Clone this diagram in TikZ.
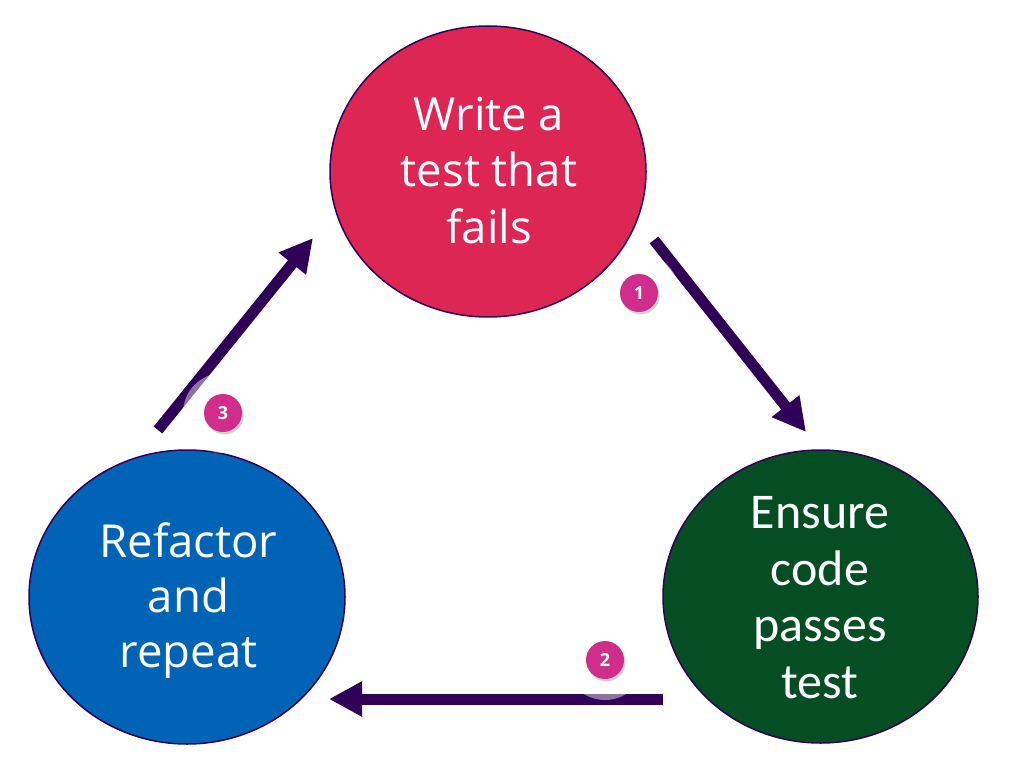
\documentclass[tikz,border=0pt]{standalone}
\usepackage{fontspec}
\newfontfamily\ember{Open Sans}
\newfontfamily\calib{Carlito}
\usetikzlibrary{arrows.meta,shapes.geometric,shadows}
\definecolor{tddred}{RGB}{222,38,84}
\definecolor{tddblue}{RGB}{0,99,182}
\definecolor{tddgreen}{RGB}{5,78,36}
\definecolor{tddpurple}{RGB}{48,0,88}
\definecolor{tddpink}{RGB}{208,45,140}
\tikzset{
  bubble/.style={ellipse, draw=tddpurple, line width=1.5pt, inner sep=0pt},
  label1/.style={text=white, align=center, anchor=base, inner sep=0pt},
  flow/.style={draw=tddpurple, line width=11pt, -{Triangle[length=33pt,width=33pt]}},
  halo/.style={circle, fill=white, fill opacity=0.45, minimum size=80pt, inner sep=0pt},
  badge/.style={circle, fill=tddpink, minimum size=38pt, inner sep=0pt, text=white,
    font=\ember\bfseries\fontsize{18}{18}\selectfont,
    drop shadow={opacity=0.35, shadow xshift=1.5pt, shadow yshift=-2.5pt}}
}
\begin{document}
\begin{tikzpicture}[x=1pt,y=-1pt]
\useasboundingbox[fill=white] (0,0) rectangle (1011,778);
% circles
\node[bubble, fill=tddred, minimum width=316pt, minimum height=291pt] (write) at (488,171.5) {};
\node[bubble, fill=tddgreen, minimum width=315pt, minimum height=293pt] (ensure) at (820.5,596.5) {};
\node[bubble, fill=tddblue, minimum width=316pt, minimum height=294pt] (refactor) at (187,597) {};
% texts (anchor base = baseline of the last line)
\node[label1, font=\ember\fontsize{45.5}{56.5}\selectfont] (twrite) at (489,243) {Write a\\test that\\fails};
\node[label1, font=\calib\fontsize{50}{56.5}\selectfont] (tensure) at (820,698) {Ensure\\code\\passes\\test};
\node[label1, font=\ember\fontsize{45.5}{55}\selectfont] (trefactor) at (188.5,667) {Refactor\\and\\repeat};
% arrow end points
\coordinate (a1s) at (654,240);
\coordinate (a1e) at (806,432);
\coordinate (a2s) at (663,699);
\coordinate (a2e) at (329,699);
\coordinate (a3s) at (158,430);
\coordinate (a3e) at (313,238);
\draw[flow] (a1s) -- (a1e);
\draw[flow] (a2s) -- (a2e);
\draw[flow] (a3s) -- (a3e);
% halos and badges
\node[halo] (h1) at (639,293) {};
\node[halo] (h2) at (605,660) {};
\node[halo] (h3) at (223,413) {};
\node[badge] (b1) at (h1) {1};
\node[badge] (b2) at (h2) {2};
\node[badge] (b3) at (h3) {3};
\end{tikzpicture}
\end{document}
